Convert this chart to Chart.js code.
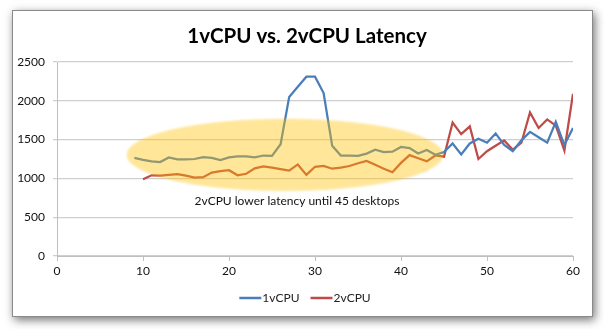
<!DOCTYPE html>
<html>
<head>
<meta charset="utf-8">
<script src="https://cdn.jsdelivr.net/npm/chart.js@4"></script>
<style>
  html, body { margin: 0; padding: 0; background: #fff; }
  body { width: 604px; height: 329px; position: relative; overflow: hidden; }
  .frame {
    position: absolute; left: 12px; top: 10px; width: 579px; height: 305px;
    border: 1px solid #8a8a8a; background: #fff;
    box-shadow: 2px 3px 9px rgba(0,0,0,0.55);
  }
  .wrap { position: absolute; left: 0; top: 0; width: 604px; height: 329px; }
</style>
</head>
<body>
<div class="frame"></div>
<div class="wrap"><canvas id="chart" width="604" height="329"></canvas></div>
<script>
// ── Data ──
const TITLE = '1vCPU vs. 2vCPU Latency';
const NOTE = '2vCPU lower latency until 45 desktops';

const desktops1 = [9, 10, 11, 12, 13, 14, 15, 16, 17, 18, 19, 20, 21, 22, 23, 24, 25, 26, 27, 28,
  29, 30, 31, 32, 33, 34, 35, 36, 37, 38, 39, 40, 41, 42, 43, 44, 45, 46, 47, 48,
  49, 50, 51, 52, 53, 54, 55, 56, 57, 58, 59, 60];
const latency1 = [1265, 1240, 1220, 1210, 1270, 1245, 1245, 1250, 1275, 1265, 1235, 1270, 1285, 1285, 1270, 1295, 1290, 1440, 2050, 2180,
  2310, 2310, 2100, 1420, 1295, 1295, 1290, 1320, 1370, 1340, 1345, 1405, 1390, 1320, 1365, 1305, 1340, 1450, 1310, 1450,
  1510, 1460, 1580, 1430, 1350, 1490, 1600, 1530, 1460, 1730, 1430, 1650];

const desktops2 = [10, 11, 12, 13, 14, 15, 16, 17, 18, 19, 20, 21, 22, 23, 24, 25, 26, 27, 28,
  29, 30, 31, 32, 33, 34, 35, 36, 37, 38, 39, 40, 41, 42, 43, 44, 45, 46, 47, 48,
  49, 50, 51, 52, 53, 54, 55, 56, 57, 58, 59, 60];
const latency2 = [990, 1040, 1035, 1045, 1055, 1035, 1010, 1015, 1075, 1095, 1105, 1040, 1060, 1130, 1155, 1140, 1120, 1100, 1180,
  1045, 1150, 1160, 1125, 1140, 1160, 1195, 1225, 1175, 1125, 1080, 1200, 1300, 1260, 1220, 1295, 1280, 1720, 1570, 1670,
  1250, 1350, 1420, 1490, 1370, 1460, 1850, 1650, 1760, 1680, 1360, 2090];

const xTicks = [0, 10, 20, 30, 40, 50, 60];
const yTicks = [0, 500, 1000, 1500, 2000, 2500];

// highlight ellipse in data units: centre x/y, radius x/y
const NOTE_ELLIPSE = { cx: 26.5, cy: 1303, rx: 18.4, ry: 466 };
const NOTE_POS = { x: 27.9, y: 710 };

const FONT = 'Lato, "Open Sans", sans-serif';
const BLUE = '#4a7ebb';
const RED = '#be4b48';

const pts = (xs, ys) => xs.map((x, i) => ({ x, y: ys[i] }));

// ── Annotation: yellow ellipse + note ──
const highlight = {
  id: 'highlight',
  afterDatasetsDraw(chart) {
    const { ctx, scales: { x, y } } = chart;
    const cx = x.getPixelForValue(NOTE_ELLIPSE.cx);
    const cy = y.getPixelForValue(NOTE_ELLIPSE.cy);
    const rx = Math.abs(x.getPixelForValue(NOTE_ELLIPSE.cx + NOTE_ELLIPSE.rx) - cx);
    const ry = Math.abs(y.getPixelForValue(NOTE_ELLIPSE.cy + NOTE_ELLIPSE.ry) - cy);
    ctx.save();
    ctx.filter = 'blur(1px)';
    ctx.fillStyle = 'rgba(255,192,0,0.4)';
    ctx.beginPath();
    ctx.ellipse(cx, cy, rx, ry, 0, 0, Math.PI * 2);
    ctx.fill();
    ctx.filter = 'none';
    ctx.fillStyle = '#111';
    ctx.font = '12px ' + FONT;
    ctx.textAlign = 'center';
    ctx.textBaseline = 'middle';
    ctx.fillText(NOTE, x.getPixelForValue(NOTE_POS.x), y.getPixelForValue(NOTE_POS.y));
    ctx.restore();
  },
};

// ── Title + legend centred on the frame (the built-in ones centre on the padded box) ──
const frameText = {
  id: 'frameText',
  afterDraw(chart) {
    const { ctx } = chart;
    const mid = 305;
    ctx.save();
    ctx.fillStyle = '#000';
    ctx.font = 'bold 20.5px ' + FONT;
    ctx.textAlign = 'center';
    ctx.textBaseline = 'middle';
    ctx.fillText(TITLE, mid + 2, 36);

    // legend
    ctx.font = '12px ' + FONT;
    ctx.textAlign = 'left';
    const items = chart.data.datasets.map(d => ({ label: d.label, color: d.borderColor }));
    const sw = 22, gap = 1, sep = 11;
    const widths = items.map(it => sw + gap + ctx.measureText(it.label).width);
    const total = widths.reduce((a, b) => a + b, 0) + sep * (items.length - 1);
    let x = mid - total / 2;
    const y = 298;
    items.forEach((it, i) => {
      ctx.strokeStyle = it.color;
      ctx.lineWidth = 2.5;
      ctx.beginPath();
      ctx.moveTo(x, y);
      ctx.lineTo(x + sw, y);
      ctx.stroke();
      ctx.fillStyle = '#222';
      ctx.fillText(it.label, x + sw + gap, y);
      x += widths[i] + sep;
    });
    ctx.restore();
  },
};

new Chart(document.getElementById('chart'), {
  type: 'line',
  data: {
    datasets: [
      { label: '1vCPU', data: pts(desktops1, latency1), borderColor: BLUE, backgroundColor: BLUE,
        borderWidth: 2.25, pointRadius: 0, tension: 0 },
      { label: '2vCPU', data: pts(desktops2, latency2), borderColor: RED, backgroundColor: RED,
        borderWidth: 2.25, pointRadius: 0, tension: 0 },
    ],
  },
  options: {
    responsive: false,
    animation: false,
    devicePixelRatio: 1,
    layout: { padding: { top: 62, right: 31, bottom: 46, left: 0 } },
    plugins: {
      title: { display: false },
      legend: { display: false },
      tooltip: { enabled: false },
    },
    scales: {
      x: {
        type: 'linear', min: 0, max: 60,
        afterBuildTicks: s => { s.ticks = xTicks.map(v => ({ value: v })); },
        afterFit: s => { s.height = 27; },
        ticks: { color: '#111', font: { family: FONT, size: 12 }, padding: 3, callback: v => String(v) },
        grid: { display: true, drawOnChartArea: false, color: '#bfbfbf', tickLength: 5 },
        border: { color: '#bfbfbf', width: 1 },
      },
      y: {
        min: 0, max: 2500,
        afterBuildTicks: s => { s.ticks = yTicks.map(v => ({ value: v })); },
        afterFit: s => { s.width = 57; },
        ticks: { color: '#111', font: { family: FONT, size: 12 }, padding: 8, callback: v => String(v) },
        grid: { color: '#cfcfcf', lineWidth: 1.25, tickLength: 4 },
        border: { color: '#bfbfbf', width: 1 },
      },
    },
  },
  plugins: [highlight, frameText],
});
</script>
</body>
</html>
